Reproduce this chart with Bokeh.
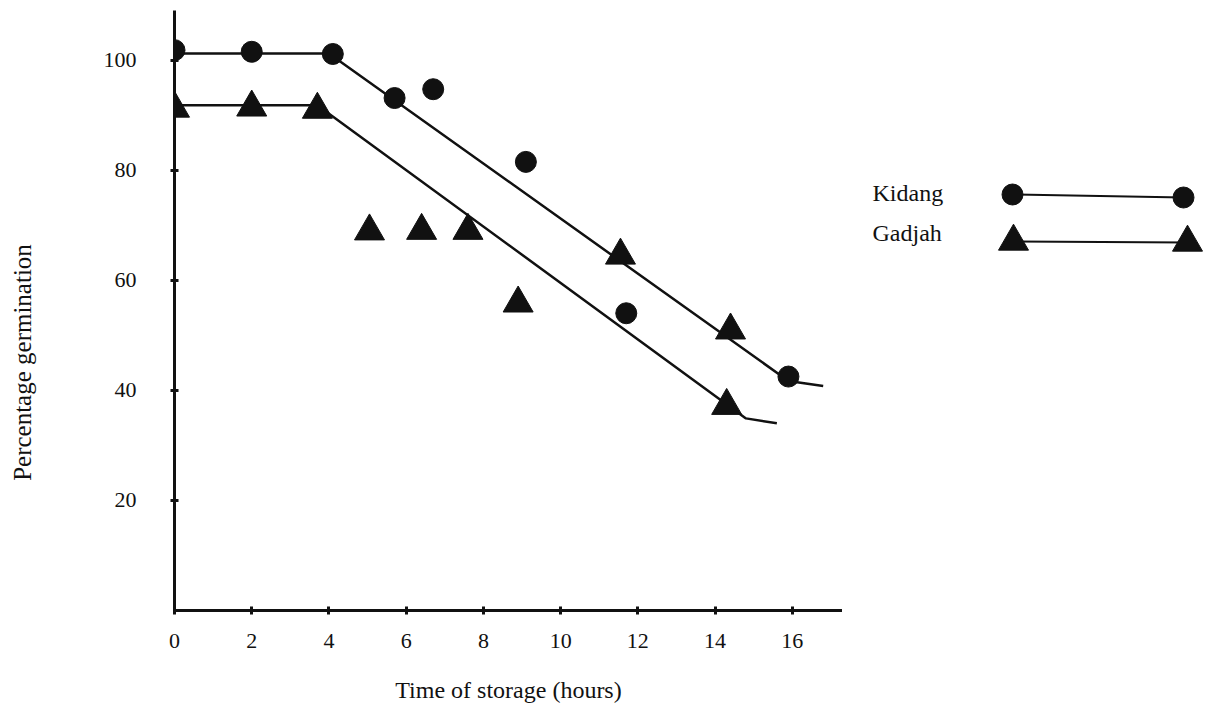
import math
from bokeh.plotting import figure
from bokeh.models import FixedTicker, Range1d
from bokeh.layouts import row
from bokeh.embed import file_html
from bokeh.resources import INLINE
from bokeh.core.properties import value

# ---- data ----
series_names = ["Kidang", "Gadjah"]
hours_kidang = [0.0, 2.0, 4.1, 5.7, 6.7, 9.1, 11.7, 15.9]
germ_kidang = [101.8, 101.5, 101.1, 93.1, 94.7, 81.5, 54.0, 42.5]
hours_gadjah = [0.0, 2.0, 3.7, 5.05, 6.4, 7.6, 8.9, 11.55, 14.4, 14.3]
germ_gadjah = [91.2, 91.4, 91.0, 68.9, 69.0, 69.0, 55.8, 64.5, 50.9, 37.2]
fit_hours_kidang = [0.0, 4.0, 15.9, 16.8]
fit_germ_kidang = [101.2, 101.2, 41.7, 40.8]
fit_hours_gadjah = [0.0, 3.7, 14.8, 15.6]
fit_germ_gadjah = [91.8, 91.8, 34.9, 34.0]
x_ticks = [0, 2, 4, 6, 8, 10, 12, 14, 16]
y_ticks = [20, 40, 60, 80, 100]
x_title = "Time of storage (hours)"
y_title = "Percentage germination"

FONT = "Liberation Serif"
INK = "#111111"
TOP, FRAME_H, BOTTOM = 10, 600, 93


def blank_panel(x0, x1):
    f = figure(frame_width=x1 - x0, frame_height=FRAME_H,
               x_range=Range1d(x0, x1), y_range=Range1d(TOP + FRAME_H, TOP),
               output_backend="svg", toolbar_location=None,
               x_axis_location=None, y_axis_location=None,
               min_border_left=0, min_border_right=0,
               min_border_top=TOP, min_border_bottom=BOTTOM,
               background_fill_color="white", border_fill_color="white")
    f.outline_line_color = None
    f.grid.visible = False
    return f


# ---- y-axis title panel ----
yl = blank_panel(0, 45)
yl.text([22], [362], text=[y_title], angle=math.pi / 2,
        text_align="center", text_baseline="middle",
        text_font=value(FONT), text_font_size="25px", text_color=INK)

# ---- main chart ----
p = figure(frame_width=668, frame_height=FRAME_H,
           x_range=Range1d(0, 17.3), y_range=Range1d(0, 109),
           output_backend="svg", toolbar_location=None,
           min_border_left=129, min_border_right=0,
           min_border_top=TOP, min_border_bottom=BOTTOM,
           background_fill_color="white", border_fill_color="white")
p.outline_line_color = None
p.grid.visible = False

for ax in (p.xaxis, p.yaxis):
    ax.axis_line_width = 3
    ax.axis_line_color = INK
    ax.major_tick_line_color = INK
    ax.major_tick_line_width = 3
    ax.major_tick_in = 4
    ax.major_tick_out = 4
    ax.minor_tick_line_color = None
    ax.major_label_text_font = FONT
    ax.major_label_text_font_size = "22px"
    ax.major_label_text_color = INK

p.xaxis.ticker = FixedTicker(ticks=x_ticks)
p.yaxis.ticker = FixedTicker(ticks=y_ticks)
p.xaxis.major_label_standoff = 19
p.yaxis.major_label_standoff = 34

p.xaxis.axis_label = x_title
p.xaxis.axis_label_text_font = FONT
p.xaxis.axis_label_text_font_style = "normal"
p.xaxis.axis_label_text_font_size = "24px"
p.xaxis.axis_label_text_color = INK
p.xaxis.axis_label_standoff = 26

# fitted lines
p.line(fit_hours_kidang, fit_germ_kidang, line_color=INK, line_width=2.5)
p.line(fit_hours_gadjah, fit_germ_gadjah, line_color=INK, line_width=2.5)

# observations
p.scatter(hours_kidang, germ_kidang, marker="circle", size=21,
          fill_color=INK, line_color=INK)
p.scatter(hours_gadjah, germ_gadjah, marker="triangle", size=30,
          fill_color=INK, line_color=INK)

# ---- legend panel (page pixel coordinates) ----
lf = blank_panel(842, 1203)
text_x = [872, 872]
text_y = [192, 232]
mark_x0 = [1012, 1013]
mark_x1 = [1183, 1187]
mark_y0 = [194, 241]
mark_y1 = [197, 242]
markers = ["circle", "triangle"]
sizes = [21, 30]

lf.text(text_x, text_y, text=series_names, text_baseline="middle", text_align="left",
        text_font=value(FONT), text_font_size="24px", text_color=INK)
for i in range(2):
    lf.line([mark_x0[i], mark_x1[i]], [mark_y0[i], mark_y1[i]], line_color=INK, line_width=2)
    lf.scatter([mark_x0[i], mark_x1[i]], [mark_y0[i], mark_y1[i]], marker=markers[i],
               size=sizes[i], fill_color=INK, line_color=INK)

layout = row(yl, p, lf)
open("out.html", "w").write(file_html(layout, INLINE))
